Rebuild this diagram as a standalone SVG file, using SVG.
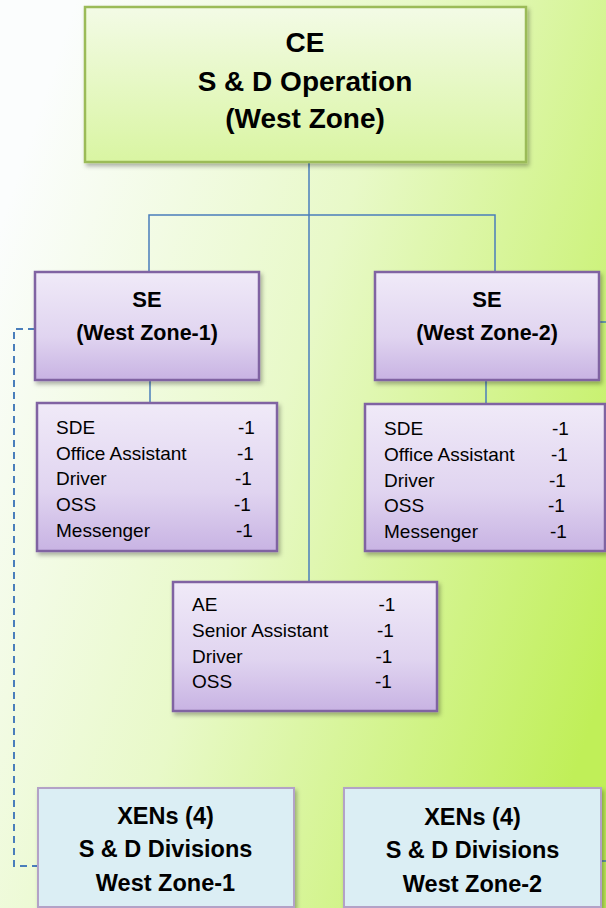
<svg xmlns="http://www.w3.org/2000/svg" width="606" height="908" viewBox="0 0 606 908">
<defs>
  <linearGradient id="bg" x1="0" y1="0.25" x2="1" y2="0.75">
    <stop offset="0" stop-color="#fbfdfd"/>
    <stop offset="0.45" stop-color="#e8f9c8"/>
    <stop offset="1" stop-color="#c0ef58"/>
  </linearGradient>
  <linearGradient id="gGreen" x1="0" y1="0" x2="0" y2="1">
    <stop offset="0" stop-color="#f3fbe6"/>
    <stop offset="1" stop-color="#d9f5a2"/>
  </linearGradient>
  <linearGradient id="gPurple" x1="0" y1="0" x2="0" y2="1">
    <stop offset="0" stop-color="#f0eaf8"/>
    <stop offset="0.6" stop-color="#e0d4f0"/>
    <stop offset="1" stop-color="#c8b3e3"/>
  </linearGradient>
  <filter id="sh" x="-10%" y="-10%" width="125%" height="130%">
    <feDropShadow dx="2" dy="3" stdDeviation="2" flood-color="#000" flood-opacity="0.3"/>
  </filter>
</defs>
<style>
  .bold { font-family: "Liberation Sans", Arial, sans-serif; font-weight: bold; fill: #000; text-anchor: middle; }
  .reg { font-family: "Liberation Sans", Arial, sans-serif; font-size: 19px; fill: #000; }
  .ce { fill: url(#gGreen); stroke: #9bbb59; stroke-width: 2.5; filter: url(#sh); }
  .se { fill: url(#gPurple); stroke: #8064a2; stroke-width: 2.5; filter: url(#sh); }
  .xen { fill: #dbeef4; stroke: #b3a2c7; stroke-width: 2; filter: url(#sh); }
  .solid { fill: none; stroke: #4a7ebb; stroke-width: 1.5; }
  .dash { fill: none; stroke: #4a7ebb; stroke-width: 2; stroke-dasharray: 7 5; }
</style>
<rect x="0" y="0" width="606" height="908" fill="url(#bg)"/>

<g id="connectors">
  <path class="solid" d="M309 162 V583"/>
  <path class="solid" d="M149 272 V215 H495 V272"/>
  <path class="solid" d="M150 380 V403"/>
  <path class="solid" d="M486 380 V404"/>
  <path class="dash" d="M35 329 H14 V866 H37"/>
  <path class="solid" d="M600 322 H606"/>
  <path class="solid" d="M602 861 H606"/>
</g>

<g id="ce">
  <rect class="ce" x="85" y="7" width="441" height="155"/>
  <text class="bold" x="305" y="52" font-size="28">CE</text>
  <text class="bold" x="305" y="91" font-size="28">S &amp; D Operation</text>
  <text class="bold" x="305" y="128" font-size="28">(West Zone)</text>
</g>

<g id="se1">
  <rect class="se" x="35" y="272" width="224" height="108"/>
  <text class="bold" x="147" y="307" font-size="22">SE</text>
  <text class="bold" x="147" y="340" font-size="21.5">(West Zone-1)</text>
</g>

<g id="se2">
  <rect class="se" x="375" y="272" width="224" height="108"/>
  <text class="bold" x="487" y="307" font-size="22">SE</text>
  <text class="bold" x="487" y="340" font-size="21.5">(West Zone-2)</text>
</g>

<g id="staff1">
  <rect class="se" x="37" y="403" width="240" height="148"/>
  <text class="reg" x="56" y="434">SDE</text>
  <text class="reg" x="56" y="459.5">Office Assistant</text>
  <text class="reg" x="56" y="485">Driver</text>
  <text class="reg" x="56" y="511">OSS</text>
  <text class="reg" x="56" y="536.5">Messenger</text>
  <text class="reg" x="238" y="434">-1</text>
  <text class="reg" x="237" y="459.5">-1</text>
  <text class="reg" x="235" y="485">-1</text>
  <text class="reg" x="234" y="511">-1</text>
  <text class="reg" x="236" y="536.5">-1</text>
</g>

<g id="staff2">
  <rect class="se" x="365" y="404" width="240" height="147"/>
  <text class="reg" x="384" y="434.5">SDE</text>
  <text class="reg" x="384" y="461">Office Assistant</text>
  <text class="reg" x="384" y="487">Driver</text>
  <text class="reg" x="384" y="512">OSS</text>
  <text class="reg" x="384" y="538">Messenger</text>
  <text class="reg" x="552" y="434.5">-1</text>
  <text class="reg" x="551" y="461">-1</text>
  <text class="reg" x="549" y="487">-1</text>
  <text class="reg" x="548" y="512">-1</text>
  <text class="reg" x="550" y="538">-1</text>
</g>

<g id="staff-ce">
  <rect class="se" x="173" y="582" width="264" height="129"/>
  <text class="reg" x="192" y="611">AE</text>
  <text class="reg" x="192" y="637">Senior Assistant</text>
  <text class="reg" x="192" y="663">Driver</text>
  <text class="reg" x="192" y="688">OSS</text>
  <text class="reg" x="378.5" y="611">-1</text>
  <text class="reg" x="377" y="637">-1</text>
  <text class="reg" x="375.5" y="663">-1</text>
  <text class="reg" x="375" y="688">-1</text>
</g>

<g id="xen1">
  <rect class="xen" x="38" y="788" width="256" height="119"/>
  <text class="bold" x="165.5" y="824" font-size="23.5">XENs (4)</text>
  <text class="bold" x="165.5" y="857" font-size="23.5">S &amp; D Divisions</text>
  <text class="bold" x="165.5" y="891" font-size="23.5">West Zone-1</text>
</g>

<g id="xen2">
  <rect class="xen" x="344" y="788" width="257" height="119"/>
  <text class="bold" x="472.5" y="825" font-size="23.5">XENs (4)</text>
  <text class="bold" x="472.5" y="858" font-size="23.5">S &amp; D Divisions</text>
  <text class="bold" x="472.5" y="892" font-size="23.5">West Zone-2</text>
</g>
</svg>
